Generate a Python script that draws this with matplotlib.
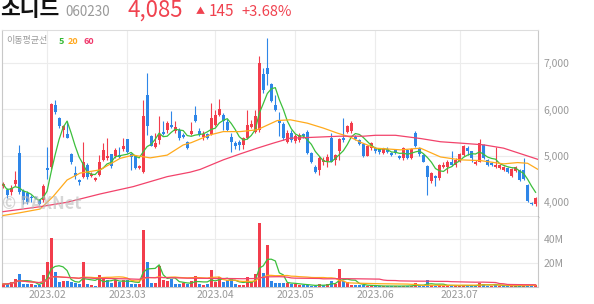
import numpy as np
import pandas as pd
import matplotlib
matplotlib.use("Agg")
import matplotlib.pyplot as plt

plt.rcParams['font.family'] = ['Noto Sans CJK KR', 'DejaVu Sans']

W, H = 594, 304

# daily candles, 2023-01-13 .. 2023-07-28
opens = [4340, 4250, 4220, 4380, 5050, 4230, 4180, 4110, 4100, 4040,
         4040, 4740, 4760, 6100, 5820, 5560, 5470, 5030, 4620, 4470,
         4540, 4800, 4550, 4470, 4580, 4910, 4940, 5030, 4990, 5010,
         5140, 5360, 5030, 4980, 4730, 4650, 6320, 5430, 5190, 5340,
         5520, 5550, 5670, 5530, 5560, 5450, 5300, 5470, 5880, 5540,
         5410, 5460, 5470, 5670, 5890, 5880, 5720, 5410, 5270, 5290,
         5220, 5380, 5610, 5520, 5560, 6770, 6910, 6550, 6100, 5760,
         5690, 5300, 5500, 5310, 5330, 5460, 5520, 5050, 4750, 4690,
         4850, 4880, 5380, 4910, 5090, 5380, 5520, 5530, 5410, 5340,
         5250, 5000, 5160, 5160, 5140, 5060, 5140, 5060, 5120, 4990,
         4950, 5120, 4950, 5500, 5160, 5010, 4780, 4440, 4560, 4510,
         4750, 4760, 4850, 4790, 4890, 5020, 5160, 5090, 4820, 4870,
         5230, 4900, 4830, 4750, 4730, 4690, 4720, 4550, 4660, 4690,
         4680, 4360, 3980, 3940]
highs = [4420, 4290, 4360, 4670, 5220, 4280, 4230, 4150, 4130, 4060,
         4390, 5180, 6130, 6200, 5830, 5660, 5740, 5060, 4780, 4500,
         5300, 4830, 4640, 4530, 5020, 5270, 5380, 5040, 5160, 5180,
         5380, 5370, 5060, 5000, 4800, 6210, 6800, 5450, 5500, 5860,
         5740, 5760, 5960, 5760, 5600, 5480, 5310, 5730, 6070, 5600,
         5540, 5490, 6140, 5990, 6230, 5930, 5790, 5490, 5320, 5330,
         5410, 5990, 5770, 5990, 7150, 6910, 7550, 6570, 6320, 5950,
         5720, 5560, 5560, 5460, 5480, 5480, 5560, 5080, 4790, 4980,
         4960, 5030, 5500, 5030, 5380, 5810, 5660, 5740, 5450, 5370,
         5270, 5230, 5300, 5180, 5170, 5160, 5180, 5080, 5150, 5010,
         5180, 5140, 5160, 5540, 5180, 5030, 4800, 4650, 4580, 4820,
         4870, 4900, 5110, 4950, 5060, 5220, 5200, 5110, 4900, 5360,
         5250, 4930, 4850, 5190, 4820, 4770, 4750, 4720, 4770, 4700,
         4950, 4380, 4000, 4100]
lows = [4300, 4080, 4150, 4350, 4170, 3960, 3960, 4000, 4050, 3930,
        4000, 4500, 4700, 5900, 5600, 5410, 5380, 4820, 4500, 4370,
        4520, 4500, 4530, 4440, 4560, 4890, 4900, 4740, 4950, 4950,
        5100, 5050, 4680, 4700, 4700, 4620, 5450, 5200, 5160, 5250,
        5440, 5480, 5600, 5500, 5340, 5380, 5140, 5450, 5720, 5420,
        5330, 5350, 5450, 5650, 5860, 5560, 5540, 5080, 5150, 5130,
        5150, 5360, 5590, 5500, 5520, 6350, 6540, 6160, 5960, 5420,
        5340, 5280, 5300, 5280, 5300, 5390, 5030, 4830, 4620, 4580,
        4800, 4750, 4850, 4800, 4900, 5300, 5500, 5500, 5330, 5220,
        4970, 4980, 5130, 5060, 5040, 5030, 5050, 5000, 5040, 4930,
        4900, 4920, 4920, 5180, 5000, 4850, 4150, 4400, 4340, 4480,
        4720, 4620, 4780, 4760, 4860, 4990, 5020, 4870, 4800, 4850,
        4920, 4780, 4780, 4720, 4700, 4670, 4630, 4530, 4640, 4450,
        4460, 3990, 3920, 3900]
closes = [4380, 4150, 4300, 4470, 4220, 4040, 4000, 4080, 4070, 3950,
          4340, 4690, 6120, 5950, 5640, 5640, 5390, 4850, 4550, 4420,
          4860, 4540, 4610, 4510, 4870, 5120, 4990, 4770, 5120, 4970,
          5210, 5070, 4970, 4730, 4770, 5860, 5650, 5210, 5270, 5450,
          5470, 5700, 5620, 5610, 5380, 5400, 5160, 5540, 5740, 5450,
          5460, 5380, 5810, 5870, 6010, 5750, 5560, 5290, 5210, 5240,
          5380, 5670, 5680, 5850, 7010, 6430, 6760, 6190, 5980, 5700,
          5380, 5500, 5340, 5430, 5450, 5420, 5050, 4870, 4650, 4940,
          4910, 4960, 4870, 5010, 5360, 5330, 5640, 5700, 5360, 5260,
          4990, 5210, 5270, 5090, 5070, 5140, 5070, 5020, 5060, 4950,
          5160, 4950, 5140, 5200, 5040, 4870, 4530, 4630, 4520, 4800,
          4800, 4870, 4800, 4900, 5040, 5200, 5110, 4950, 4870, 5270,
          4950, 4800, 4800, 4790, 4800, 4750, 4650, 4700, 4750, 4480,
          4490, 4020, 3940, 4085]
volumes_m = [2.5, 2.5, 4.4, 6.4, 10.8, 2.5, 2.5, 2.5, 1.4, 1.4,
             10.0, 20.6, 41.4, 12.5, 4.4, 5.3, 5.3, 4.4, 3.1, 2.2,
             20.6, 2.5, 1.7, 0.8, 10.0, 6.4, 5.8, 3.1, 5.8, 3.9,
             5.8, 5.8, 2.5, 2.5, 2.5, 47.5, 20.6, 3.6, 3.6, 17.5,
             5.8, 5.3, 6.4, 2.5, 2.5, 3.1, 2.5, 5.3, 9.2, 2.5,
             1.7, 2.5, 14.2, 4.4, 8.1, 4.4, 5.8, 7.2, 2.5, 1.7,
             1.7, 8.1, 4.4, 10.8, 53.6, 11.9, 35.0, 5.0, 3.6, 3.6,
             3.6, 3.1, 2.5, 2.5, 1.7, 1.7, 1.7, 0.8, 0.8, 2.5,
             1.7, 2.5, 5.3, 2.5, 15.3, 5.3, 4.4, 1.7, 1.7, 1.7,
             1.7, 0.8, 0.8, 1.0, 0.9, 0.8, 0.8, 0.7, 0.8, 0.7,
             1.2, 0.9, 1.0, 3.1, 1.5, 1.2, 5.8, 2.0, 1.2, 1.8,
             1.0, 1.2, 1.5, 1.0, 1.2, 1.5, 1.0, 1.2, 0.8, 3.6,
             2.5, 1.2, 0.8, 2.5, 1.0, 0.8, 0.8, 1.0, 0.8, 1.2,
             1.5, 1.8, 1.2, 1.5]

# 20 / 60 day averages (day index, price)
ma20_idx = [0, 4.25, 9.25, 12.5, 16, 19.25, 24.25, 29.25, 32.5, 36.75, 41, 45,
            47, 51.75, 55, 59.25, 63.5, 68.5, 71.75, 76, 80, 83.5, 86.75, 89.25,
            93, 99.25, 104.25, 109.25, 114.25, 119.25, 125, 128.5, 131, 133.5]
ma20_val = [3700, 3760, 3840, 4110, 4470, 4620, 4690, 4940, 5010, 4950, 5010, 5230,
            5280, 5450, 5520, 5520, 5560, 5760, 5776, 5703, 5596, 5487, 5400, 5290,
            5161, 5124, 5161, 4970, 4907, 4891, 4820, 4848, 4833, 4704]
ma60_idx = [0, 9.25, 16, 24.25, 32.5, 41, 46.75, 49.25, 55, 59.25, 63.5, 67.5,
            71.75, 76, 84, 90, 93, 98, 104.25, 109.25, 114.25, 120, 125, 133.5]
ma60_val = [3783, 3891, 3987, 4167, 4326, 4543, 4640, 4700, 4907, 5037, 5161, 5270,
            5378, 5391, 5420, 5420, 5440, 5440, 5370, 5300, 5270, 5233, 5161, 4920]

month_labels = ["2023.02", "2023.03", "2023.04", "2023.05", "2023.06", "2023.07"]
month_idx = [11, 31, 53, 73, 93, 114]

UP, DOWN = "#f23d4c", "#2e86e8"
G5, O20, R60 = "#3cbf3c", "#ffaa1c", "#f2436b"
GRAY = "#999999"

o = np.array(opens); h = np.array(highs); l = np.array(lows); c = np.array(closes)
vol = np.array(volumes_m) * 1e6
x = np.arange(len(c))
cols = np.where(c >= o, UP, DOWN)
prev = np.concatenate([[o[0]], c[:-1]])
vcols = np.where(c >= prev, UP, DOWN)


def box(x0, y0, x1, y1):
    return [x0 / W, 1 - y1 / H, (x1 - x0) / W, (y1 - y0) / H]


fig = plt.figure(figsize=(W / 100, H / 100), dpi=100)
ax = fig.add_axes(box(2, 30, 538, 216.7))
axv = fig.add_axes(box(2, 216.7, 538, 287))

# price panel
ax.vlines(x, l, h, colors=cols, lw=0.8, zorder=3)
ax.bar(x, np.maximum(np.abs(c - o), 15), bottom=np.minimum(o, c), width=0.75,
       color=cols, linewidth=0, zorder=4)
ma5 = pd.Series(c).rolling(5, min_periods=1).mean()
ax.plot(x, ma5, color=G5, lw=0.9, zorder=5)
ax.plot(ma20_idx, ma20_val, color=O20, lw=0.9, zorder=5)
ax.plot(ma60_idx, ma60_val, color=R60, lw=0.9, zorder=5)
ax.set_xlim(-0.25, 133.6)
ax.set_ylim(3674, 7724)
ax.set_yticks([4000, 5000, 6000, 7000])
ax.set_yticklabels(["4,000", "5,000", "6,000", "7,000"])
ax.set_xticks(month_idx)
ax.set_xticklabels([])
ax.yaxis.tick_right()
ax.tick_params(length=0, labelsize=7.5, labelcolor=GRAY, pad=4)
ax.grid(color="#ececec", lw=0.8, zorder=0)
ax.set_axisbelow(True)
for s in ["left", "right"]:
    ax.spines[s].set_color("#c8c8c8")
ax.spines["top"].set_color("#dddddd")
ax.spines["bottom"].set_color("#333333")
ax.spines["bottom"].set_linewidth(0.9)

# volume panel
axv.bar(x, vol, width=0.75, color=vcols, linewidth=0, zorder=3)
vs = pd.Series(vol)
axv.plot(x, vs.rolling(5, min_periods=1).mean(), color=G5, lw=0.9, zorder=4)
axv.plot(x, vs.rolling(20, min_periods=1).mean(), color=O20, lw=0.9, zorder=4)
axv.plot(x, vs.rolling(60, min_periods=1).mean(), color=R60, lw=0.9, zorder=4)
axv.set_xlim(-0.25, 133.6)
axv.set_ylim(0, 58.8e6)
axv.set_yticks([20e6, 40e6])
axv.set_yticklabels(["20M", "40M"])
axv.set_xticks(month_idx)
axv.set_xticklabels(month_labels)
axv.yaxis.tick_right()
axv.tick_params(length=0, labelsize=7.5, labelcolor=GRAY, pad=4)
axv.tick_params(axis="x", pad=2)
axv.grid(color="#ececec", lw=0.8, zorder=0)
axv.set_axisbelow(True)
axv.spines["top"].set_visible(False)
for s in ["left", "right", "bottom"]:
    axv.spines[s].set_color("#c8c8c8")


def ftext(px, py, s, **kw):
    fig.text(px / W, 1 - py / H, s, va="center", **kw)


# header
ftext(0, 10, "소니드", fontsize=15.5, weight="bold", color="#111111")
ftext(65, 11.5, "060230", fontsize=9.7, color=GRAY)
ftext(127, 10.5, "4,085", fontsize=16, color="#f0424f")
ftext(196, 11.5, "▲", fontsize=6.5, color="#f0424f")
ftext(209, 11.5, "145", fontsize=11, color="#f0424f")
ftext(241, 11.5, "+3.68%", fontsize=10.6, color="#f0424f")

# legend
ftext(6, 41, "이동평균선", fontsize=6.5, color=GRAY)
ftext(59, 41, "5", fontsize=6.5, color="#33b833", weight="bold")
ftext(68, 41, "20", fontsize=6.5, color="#ffa81e", weight="bold")
ftext(83, 41, "60", fontsize=6.5, color="#f0366a", weight="bold")

# watermark
ftext(2, 204, "© PAXNet", fontsize=12, weight="bold", color="#bbbbbb", alpha=0.6, zorder=10)

fig.savefig("out.png", dpi=100)
